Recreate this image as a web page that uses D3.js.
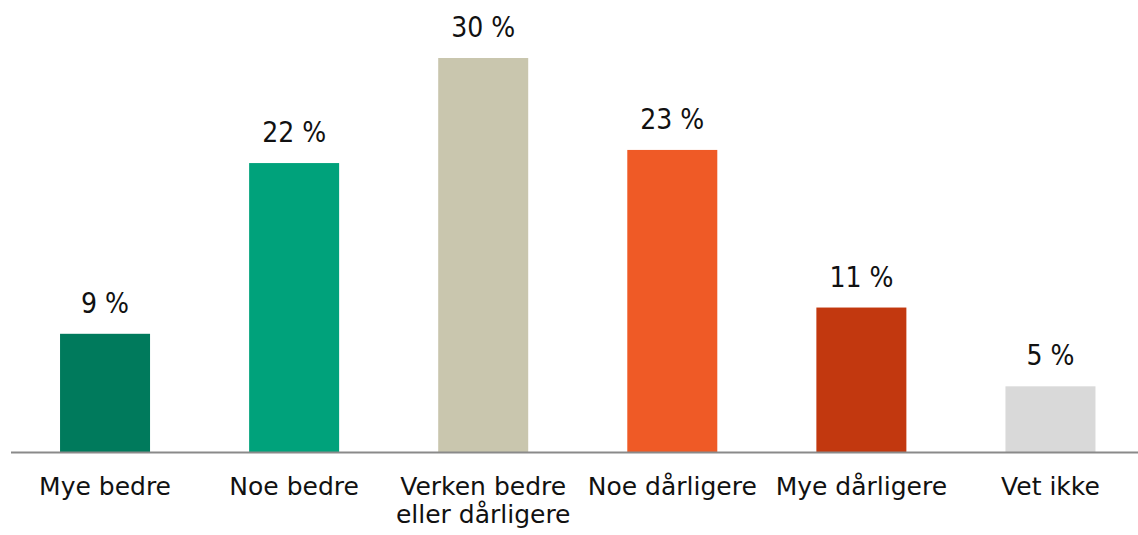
<!DOCTYPE html>
<html><head><meta charset="utf-8">
<script src="https://cdn.jsdelivr.net/npm/d3@7"></script>
<style>html,body{margin:0;padding:0;background:#fff;}svg{display:block;}</style>
</head><body>
<svg id="chart" width="1138" height="535"></svg>
<script>
const categories = [["Mye bedre"],["Noe bedre"],["Verken bedre","eller dårligere"],["Noe dårligere"],["Mye dårligere"],["Vet ikke"]];
const values = [9, 22, 30, 23, 11, 5];
const valueLabels = ["9 %","22 %","30 %","23 %","11 %","5 %"];
const colors = ["#007A5C","#00A27B","#C9C6AE","#EF5A26","#C2380F","#D9D9D9"];

const svg = d3.select("#chart");
const keys = categories.map((c,i)=>i);
const x = d3.scaleBand().domain(keys).range([10.5,1145]).paddingInner(0.524).paddingOuter(0.262);
const y = d3.scaleLinear().domain([0,30]).range([452,58]);

svg.selectAll("rect.bar").data(values).join("rect")
  .attr("class","bar")
  .attr("x",(d,i)=>x(i)).attr("width",x.bandwidth())
  .attr("y",d=>y(d)).attr("height",d=>y(0)-y(d))
  .attr("fill",(d,i)=>colors[i]);

svg.append("line").attr("x1",11).attr("x2",1138).attr("y1",y(0)+0.5).attr("y2",y(0)+0.5)
  .attr("stroke","#8a8a8a").attr("stroke-width",2);

svg.selectAll("text.val").data(values).join("text")
  .attr("class","val")
  .attr("x",(d,i)=>x(i)+x.bandwidth()/2).attr("y",d=>y(d)-21)
  .attr("text-anchor","middle")
  .attr("font-family","'DejaVu Sans Condensed','DejaVu Sans',sans-serif")
  .attr("font-size",28).attr("fill","#111")
  .text((d,i)=>valueLabels[i]);

const cat = svg.selectAll("text.cat").data(categories).join("text")
  .attr("class","cat")
  .attr("x",(d,i)=>x(i)+x.bandwidth()/2).attr("y",495)
  .attr("text-anchor","middle")
  .attr("font-family","'DejaVu Sans',sans-serif")
  .attr("font-size",25).attr("fill","#111");
cat.each(function(d,i){
  const t = d3.select(this);
  d.forEach((line,j)=>{
    t.append("tspan").attr("x",x(i)+x.bandwidth()/2).attr("dy",j===0?0:"1.12em").text(line);
  });
});
</script>
</body></html>
